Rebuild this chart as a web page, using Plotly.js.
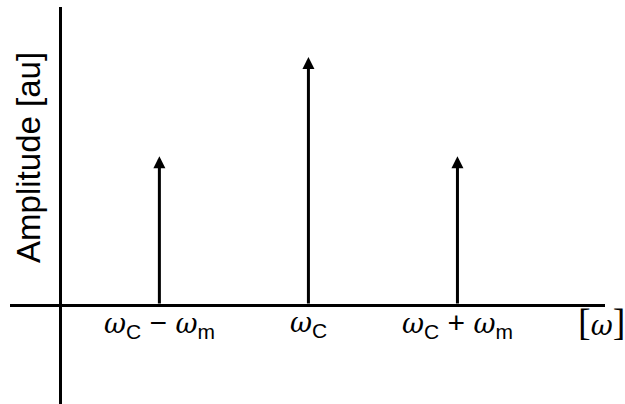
<!DOCTYPE html>
<html>
<head>
<meta charset="utf-8">
<script src="https://cdn.plot.ly/plotly-3.0.1.min.js"></script>
<style>html,body{margin:0;padding:0;background:#fff;}#chart{width:625px;height:404px;}</style>
</head>
<body>
<div id="chart"></div>
<script>
// Data
const categories = ["ωC − ωm", "ωC", "ωC + ωm"];
const positions = [2, 5, 8];            // ωc = 5, ωm = 3 (arbitrary units)
const amplitudes = [0.6, 1.0, 0.6];
const W = "<span style='font-family:DejaVu Serif;font-style:italic;font-size:27px'>ω</span>";
const NB = "\u00A0";
const tickLabels = [
  W + "<sub>C</sub>" + NB + "−" + NB + W + "<sub>m</sub>",
  W + "<sub>C</sub>",
  W + "<sub>C</sub>" + NB + "+" + NB + W + "<sub>m</sub>"
];
const xUnitLabel = "<span style='font-family:Liberation Serif;font-size:38px'>[</span>" + W +
                   "<span style='font-family:Liberation Serif;font-size:38px'>]</span>";
const yTitle = "Amplitude [au]";

const FONT = "Liberation Sans, Arial, sans-serif";

const annotations = [];
positions.forEach((x, i) => {
  annotations.push({
    x: x, y: amplitudes[i], xref: "x", yref: "y",
    ax: x, ay: 0, axref: "x", ayref: "y",
    text: "", showarrow: true, arrowhead: 2, arrowsize: 0.8,
    arrowwidth: 3, arrowcolor: "#000", standoff: 0, startstandoff: 0
  });
  annotations.push({
    x: x, y: -0.08, xref: "x", yref: "y",
    text: tickLabels[i], showarrow: false,
    xanchor: "center", yanchor: "middle",
    font: {family: FONT, size: 30, color: "#000"}
  });
});
annotations.push({
  x: 10.89, y: -0.0685, xref: "x", yref: "y",
  text: xUnitLabel, showarrow: false, xanchor: "center", yanchor: "middle",
  font: {family: FONT, size: 30, color: "#000"}
});
annotations.push({
  x: 0.032, y: 0.62, xref: "paper", yref: "paper",
  text: yTitle, textangle: -90, showarrow: false,
  xanchor: "center", yanchor: "middle",
  font: {family: FONT, size: 33, color: "#000"}
});

const trace = {
  x: positions, y: amplitudes, type: "scatter", mode: "markers",
  marker: {size: 0.1, color: "rgba(0,0,0,0)"}, hoverinfo: "skip", showlegend: false
};

const layout = {
  width: 625, height: 404,
  margin: {l: 10, r: 20, t: 7, b: 0},
  paper_bgcolor: "#fff", plot_bgcolor: "#fff",
  showlegend: false,
  xaxis: {range: [-1.007, 10.97], showgrid: false, showticklabels: false, ticks: "",
          zeroline: true, zerolinecolor: "#000", zerolinewidth: 3, showline: false, fixedrange: true},
  yaxis: {range: [-0.399, 1.2016], showgrid: false, showticklabels: false, ticks: "",
          zeroline: true, zerolinecolor: "#000", zerolinewidth: 3, showline: false, fixedrange: true},
  annotations: annotations
};

Plotly.newPlot("chart", [trace], layout, {staticPlot: true, displayModeBar: false});
</script>
</body>
</html>
